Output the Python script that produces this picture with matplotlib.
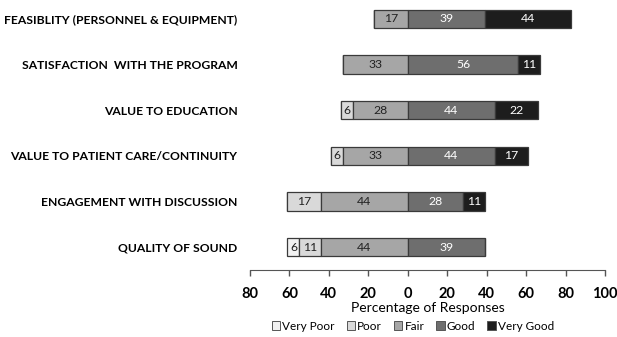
import matplotlib
matplotlib.use("Agg")
import matplotlib.pyplot as plt
from matplotlib.patches import Patch
import numpy as np

plt.rcParams['font.family'] = ['Lato', 'DejaVu Sans']

categories = [
    "FEASIBLITY (PERSONNEL & EQUIPMENT)",
    "SATISFACTION  WITH THE PROGRAM",
    "VALUE TO EDUCATION",
    "VALUE TO PATIENT CARE/CONTINUITY",
    "ENGAGEMENT WITH DISCUSSION",
    "QUALITY OF SOUND",
]
very_poor = [0, 0, 0, 0, 0, 6]
poor = [0, 0, 6, 6, 17, 11]
fair = [17, 33, 28, 33, 44, 44]
good = [39, 56, 44, 44, 28, 39]
very_good = [44, 11, 22, 17, 11, 0]

levels = ["Very Poor", "Poor", "Fair", "Good", "Very Good"]
colors = ["#f2f2f2", "#d9d9d9", "#a6a6a6", "#6e6e6e", "#1d1d1d"]
text_colors = ["#222222", "#222222", "#222222", "white", "white"]
tick_values = [-80, -60, -40, -20, 0, 20, 40, 60, 80, 100]

series = [very_poor, poor, fair, good, very_good]

fig = plt.figure(figsize=(6.17, 3.37), dpi=100)
ax = fig.add_axes([250 / 617, 1 - 270 / 337, 355 / 617, 262 / 337])

y = np.arange(len(categories))
left = -(np.array(very_poor) + np.array(poor) + np.array(fair)).astype(float)

for vals, col, tcol in zip(series, colors, text_colors):
    vals = np.array(vals, dtype=float)
    ax.barh(y, vals, left=left, height=0.4, color=col, edgecolor="#3a3a3a", linewidth=0.9)
    for yi, l, v in zip(y, left, vals):
        if v > 0:
            ax.text(l + v / 2, yi, f"{int(v)}", ha="center", va="center",
                    fontsize=8.8, color=tcol)
    left = left + vals

ax.set_ylim(5.5, -0.24)
ax.set_xlim(-80, 100)
ax.set_yticks(y)
ax.set_yticklabels(categories, fontsize=8.7, fontweight="bold")
ax.tick_params(axis="y", length=0, pad=9)
ax.set_xticks(tick_values)
ax.set_xticklabels([str(abs(v)) for v in tick_values], fontsize=10.5, fontweight="bold")
ax.tick_params(axis="x", length=4, width=1, color="#555555", pad=8)
for s in ["top", "right", "left"]:
    ax.spines[s].set_visible(False)
ax.spines["bottom"].set_color("#555555")
ax.set_xlabel("Percentage of Responses", fontsize=10, labelpad=1)

handles = [Patch(facecolor=c, edgecolor="#555555", linewidth=0.7) for c in colors]
fig.legend(handles, levels, loc="center", bbox_to_anchor=(413 / 617, 1 - 326 / 337),
           ncol=5, frameon=False, fontsize=8.5, handlelength=0.7, handleheight=0.7,
           handletextpad=0.2, columnspacing=1.0)

fig.savefig("out.png", dpi=100, facecolor="white")
